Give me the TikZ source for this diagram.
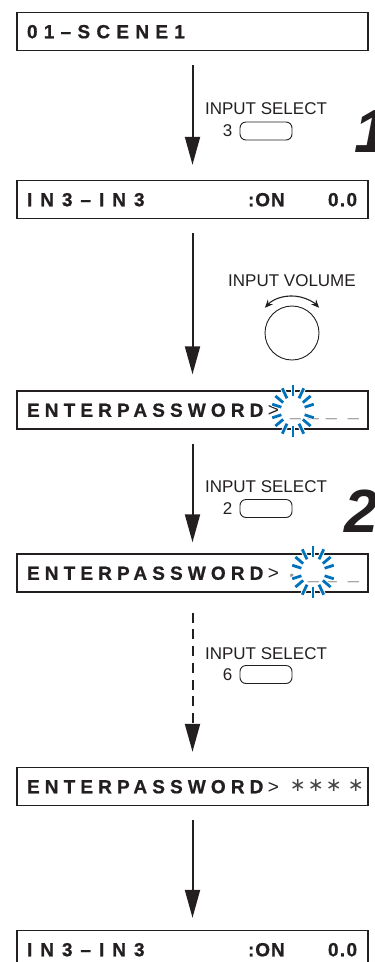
\documentclass[tikz,border=0pt]{standalone}
\usepackage{fontspec}
\setmainfont{Liberation Sans}
\newfontfamily\lcdfont{Liberation Sans}[LetterSpace=27, BoldFeatures={FakeBold=0.8}]
\newfontfamily\symfont{DejaVu Sans}
\usetikzlibrary{arrows.meta,positioning}
\definecolor{ink}{RGB}{35,31,32}
\definecolor{blink}{RGB}{0,114,188}
\definecolor{slot}{RGB}{140,140,140}
\definecolor{starc}{RGB}{70,70,70}

% display lines
\newcommand{\chline}{\makebox[221pt][l]{\addfontfeature{LetterSpace=42}IN3–IN3}%
  \makebox[80pt][l]{\addfontfeature{LetterSpace=5}:ON}{\addfontfeature{LetterSpace=7}0.0}}
\newcommand{\pwline}[1]{\makebox[241pt][l]{ENTERPASSWORD}\makebox[22pt][l]{\mdseries>}#1}
\newcommand{\pwslots}[4]{\makebox[18pt][l]{#1}\makebox[18pt][l]{#2}\makebox[22pt][l]{#3}#4}
\newcommand{\slotbar}{\textcolor{slot}{\_}}
\newcommand{\starkey}{\raisebox{2pt}{\textcolor{starc}{\symfont\mdseries\fontsize{19}{19}\selectfont ∗}}}
% blinking cursor
\newcommand{\blinkat}[1]{%
  \begin{scope}[shift={(#1)}, yscale=1.22]
    \foreach \a in {15,35,60,90,120,145,165,195,215,240,270,300,325,345}
      \draw[ray] (\a:12) -- (\a:21.5);
  \end{scope}}

\begin{document}
\begin{tikzpicture}[x=1pt, y=-1pt, >={Triangle[length=28pt,width=15pt]},
    lcd/.style={draw=ink, line width=1.4pt, minimum width=351pt, minimum height=38pt,
      text width=331pt, inner xsep=10pt, inner ysep=0pt, text height=13.5pt, text depth=0pt,
      align=left, text=ink, font=\lcdfont\bfseries\fontsize{19}{19}\selectfont},
    flow/.style={->, draw=ink, line width=2pt},
    lbl/.style={inner sep=0pt, text=ink, font=\fontsize{17}{17}\selectfont},
    btn/.style={draw=ink, line width=0.9pt, rounded corners=6pt, minimum width=52pt,
      minimum height=18pt, inner sep=0pt},
    stepno/.style={inner sep=0pt, anchor=base west, text=ink,
      font=\bfseries\itshape\fontsize{61}{61}\selectfont},
    ray/.style={draw=blink, line width=2.8pt, preaction={draw=white, line width=4.6pt}}]
  \useasboundingbox (0,0) rectangle (375,962);

  \node[lcd] (scene) at (192.5,31.5) {\addfontfeature{LetterSpace=33}01–SCENE1};
  \node[lcd] (chan) at (192.5,199.5) {\chline};
  \node[lcd] (pwa) at (192.5,410) {\pwline{\pwslots{\slotbar}{\slotbar}{\slotbar}{\slotbar}}};
  \node[lcd] (pwb) at (192.5,573)
    {\pwline{\pwslots{\textcolor{slot}{\fontsize{9}{9}\selectfont*}}{\slotbar}{\slotbar}{\slotbar}}};
  \node[lcd] (pwc) at (192.5,786.5) {\pwline{\pwslots{\starkey}{\starkey}{\starkey}{\starkey}}};
  \node[lcd] (chanb) at (192.5,949.5) {\chline};

  \blinkat{293,411}
  \blinkat{313,572}

  % step 1
  \node[lbl] (sel3) at (266,108.5) {INPUT SELECT};
  \node[btn] (btn3) at (266,131) {};
  \node[lbl, left=7pt of btn3] (key3) {3};
  \node[stepno] (step1) at (354,152) {1};

  \node[lbl] (vol) at (292,281) {INPUT VOLUME};
  \node[circle, draw=ink, line width=0.9pt, minimum size=54pt, inner sep=0pt] (knob) at (292,333) {};
  \draw[{Stealth[length=8pt,width=7pt]}-{Stealth[length=8pt,width=7pt]}, draw=ink, line width=1.1pt]
    (knob.center) ++(223:37) arc[start angle=223, end angle=317, radius=37];

  % step 2
  \node[lbl] (sel2) at (266,487) {INPUT SELECT};
  \node[btn] (btn2) at (266,508.5) {};
  \node[lbl, left=7pt of btn2] (key2) {2};
  \node[stepno] (step2) at (344,532) {2};

  \node[lbl] (sel6) at (266,653.5) {INPUT SELECT};
  \node[btn] (btn6) at (266,674.5) {};
  \node[lbl, left=7pt of btn6] (key6) {6};

  \draw[flow, shorten <=14pt, shorten >=15pt] (scene) -- (chan);
  \draw[flow, shorten <=14pt, shorten >=16pt] (chan) -- (pwa);
  \draw[flow, shorten <=14pt, shorten >=11pt] (pwa) -- (pwb);
  \draw[flow, dash pattern=on 10pt off 6.7pt, shorten <=20pt, shorten >=15pt] (pwb) -- (pwc);
  \draw[flow, shorten <=14pt, shorten >=12pt] (pwc) -- (chanb);
\end{tikzpicture}
\end{document}
